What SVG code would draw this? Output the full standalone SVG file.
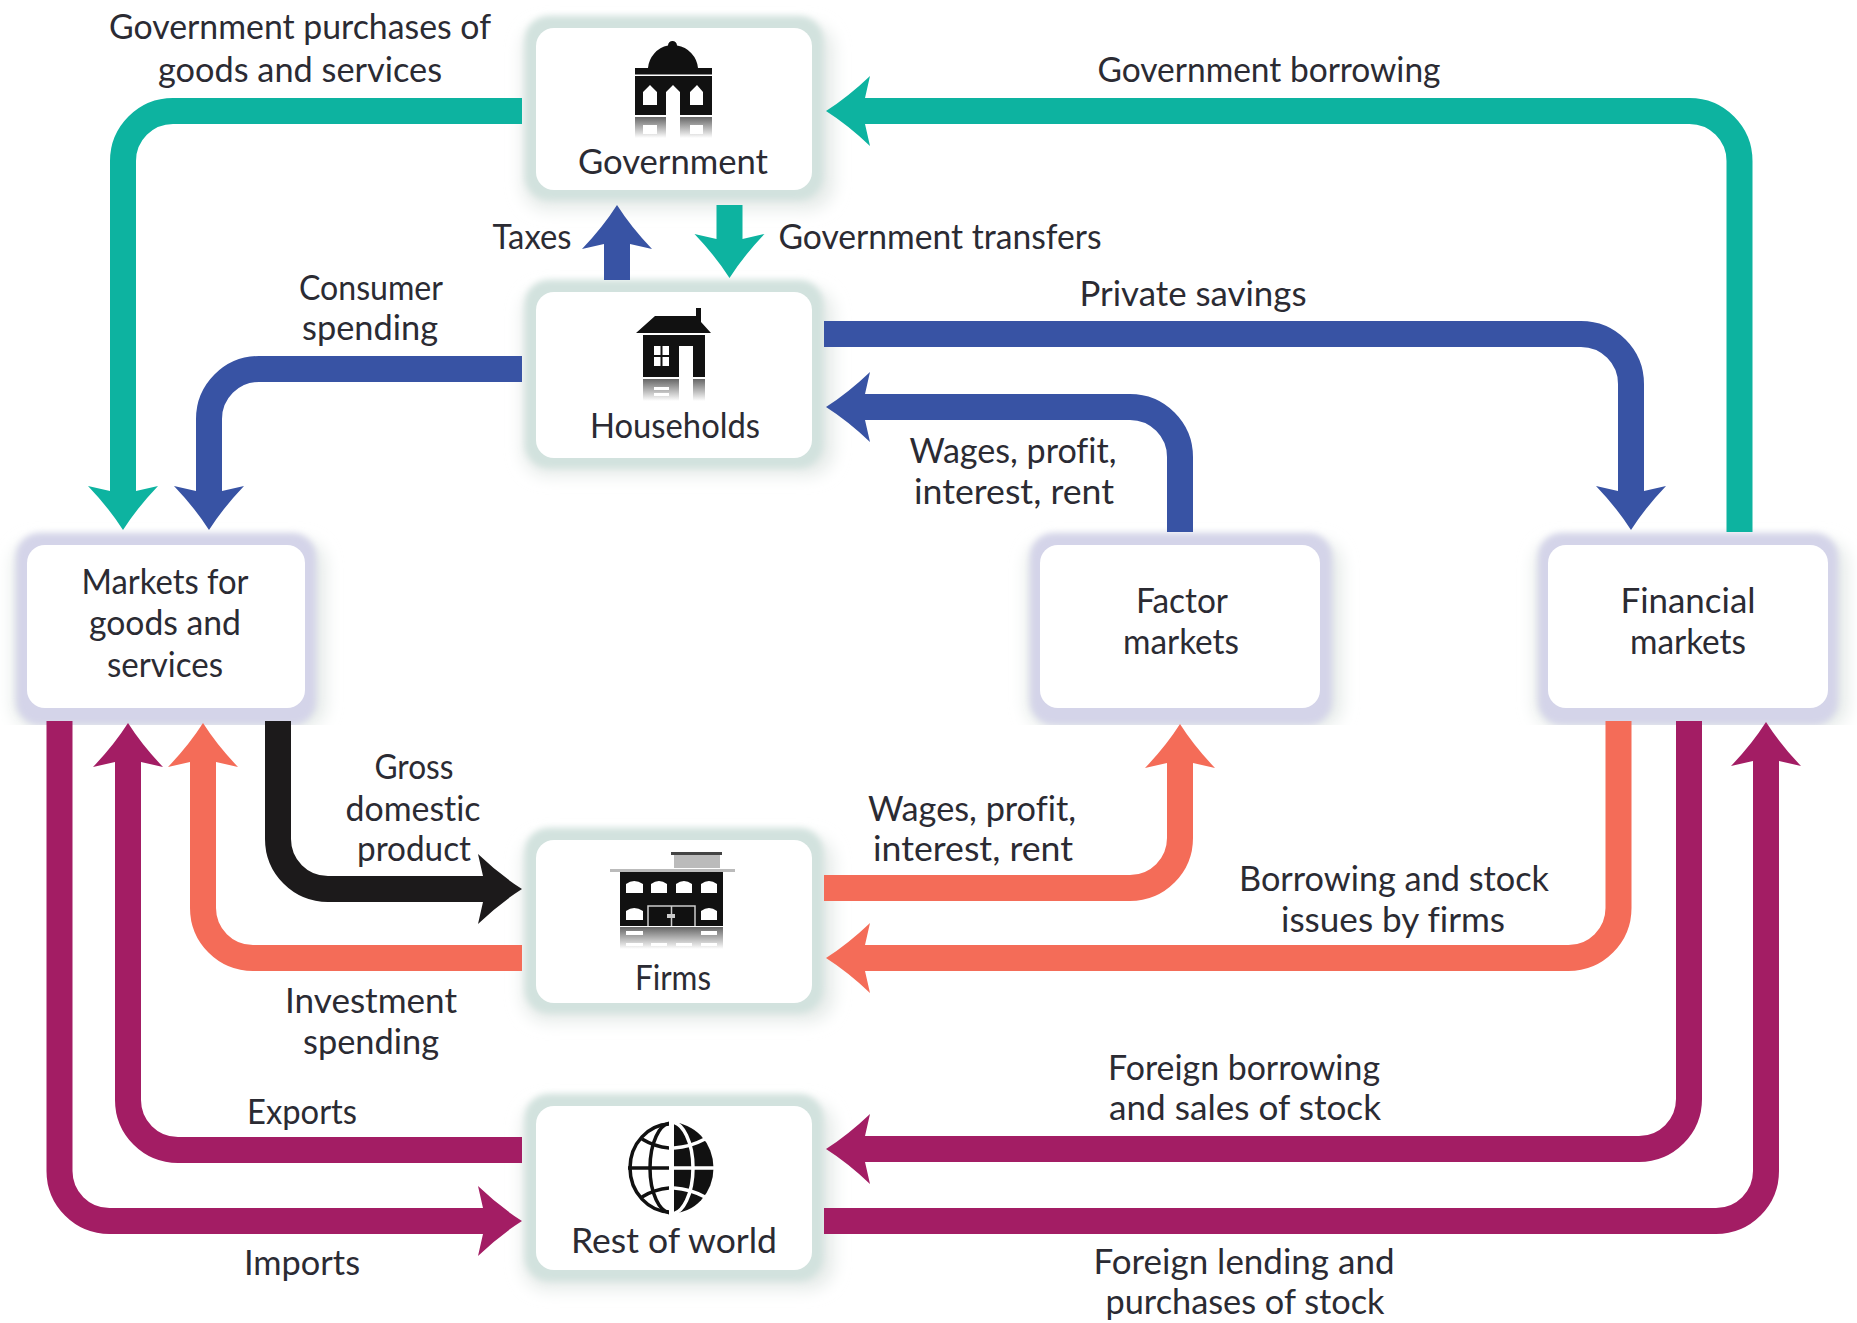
<svg xmlns="http://www.w3.org/2000/svg" width="1857" height="1323" viewBox="0 0 1857 1323">
<style>
text{font-family:"Lato","Noto Sans","Liberation Sans",sans-serif;font-size:35px;fill:#2b2b33;text-anchor:middle;font-variant-ligatures:none}
.box{fill:#fff}
.hg{fill:#d2e2de}
.hp{fill:#d4d4e9}
.sh{fill:#e6ebe9}
.c{fill:none;stroke-width:26}
.teal{stroke:#0db3a0}.blue{stroke:#3853a4}.coral{stroke:#f46c58}.mag{stroke:#a31d64}.blk{stroke:#1c1a1b}
.w{fill:#fff}.k{fill:#111}
</style>
<defs>
<filter id="blur" x="-20%" y="-20%" width="140%" height="140%"><feGaussianBlur stdDeviation="3"/></filter>
<filter id="blur2" x="-20%" y="-20%" width="140%" height="140%"><feGaussianBlur stdDeviation="8"/></filter>
<linearGradient id="refl" x1="0" y1="0" x2="0" y2="1"><stop offset="0" stop-color="#666"/><stop offset="1" stop-color="#fff"/></linearGradient>
<clipPath id="cut"><rect x="0" y="480" width="1857" height="245"/></clipPath>
<clipPath id="rh"><rect x="674" y="1110" width="50" height="115"/></clipPath>
<clipPath id="lh"><rect x="620" y="1110" width="49" height="115"/></clipPath>
<marker id="aT" markerUnits="userSpaceOnUse" markerWidth="90" markerHeight="80" viewBox="0 0 90 80" refX="20" refY="40" orient="auto"><path fill="#0db3a0" d="M50,40Q28,26 6,5L11,27V53L6,75Q28,54 50,40Z"/></marker>
<marker id="aB" markerUnits="userSpaceOnUse" markerWidth="90" markerHeight="80" viewBox="0 0 90 80" refX="20" refY="40" orient="auto"><path fill="#3853a4" d="M50,40Q28,26 6,5L11,27V53L6,75Q28,54 50,40Z"/></marker>
<marker id="aC" markerUnits="userSpaceOnUse" markerWidth="90" markerHeight="80" viewBox="0 0 90 80" refX="20" refY="40" orient="auto"><path fill="#f46c58" d="M50,40Q28,26 6,5L11,27V53L6,75Q28,54 50,40Z"/></marker>
<marker id="aM" markerUnits="userSpaceOnUse" markerWidth="90" markerHeight="80" viewBox="0 0 90 80" refX="20" refY="40" orient="auto"><path fill="#a31d64" d="M50,40Q28,26 6,5L11,27V53L6,75Q28,54 50,40Z"/></marker>
<marker id="aK" markerUnits="userSpaceOnUse" markerWidth="90" markerHeight="80" viewBox="0 0 90 80" refX="20" refY="40" orient="auto"><path fill="#1c1a1b" d="M50,40Q28,26 6,5L11,27V53L6,75Q28,54 50,40Z"/></marker>
</defs>
<rect width="1857" height="1323" fill="#fff"/>

<g id="node-government">
<rect class="sh" x="522" y="24" width="312" height="186" rx="26" filter="url(#blur2)"/>
<rect class="hg" x="525" y="16" width="298" height="184" rx="24" filter="url(#blur)"/>
<rect class="box" x="536" y="28" width="276" height="162" rx="18"/>
<path class="k" d="M648,68A25,25 0 0 1 668,45.500A4.500,4.500 0 1 1 677,45.500A25,25 0 0 1 698,68Z"/>
<rect class="k" x="635" y="68" width="77" height="6.500"/>
<rect class="k" x="635" y="76" width="77" height="39"/>
<path class="w" d="M643,105V92L650,85L657,92V105ZM666,115V92L673,85L680,92V115ZM690,105V92L697,85L703,92V105Z"/>
<rect x="635" y="117" width="77" height="21" fill="url(#refl)"/>
<path class="w" d="M666,117H680V138H666ZM643,125H657V134H643ZM690,125H703V134H690Z"/>
<text x="673" y="174" textLength="190" lengthAdjust="spacingAndGlyphs">Government</text>
</g>
<g id="node-households">
<rect class="sh" x="522" y="288" width="312" height="188" rx="26" filter="url(#blur2)"/>
<rect class="hg" x="525" y="280" width="298" height="188" rx="24" filter="url(#blur)"/>
<rect class="box" x="536" y="292" width="276" height="166" rx="18"/>
<path class="k" d="M636,333L655,316H696V308H701V322L711,333Z"/>
<rect class="k" x="643" y="335" width="62" height="42"/>
<path class="w" d="M654,346H660.500V355H654ZM662.500,346H669V355H662.500ZM654,357H660.500V366H654ZM662.500,357H669V366H662.500ZM679,346H693V377H679Z"/>
<rect x="643" y="379" width="62" height="22" fill="url(#refl)"/>
<path class="w" d="M679,379H693V401H679ZM654,387H669V390H654ZM654,393H669V396H654Z"/>
<text x="675" y="438" textLength="170" lengthAdjust="spacingAndGlyphs">Households</text>
</g>
<g id="node-firms">
<rect class="sh" x="522" y="836" width="312" height="186" rx="26" filter="url(#blur2)"/>
<rect class="hg" x="525" y="828" width="298" height="185" rx="24" filter="url(#blur)"/>
<rect class="box" x="536" y="840" width="276" height="163" rx="18"/>
<rect x="671" y="852" width="51" height="3" fill="#444"/>
<rect x="674" y="855" width="46" height="13" fill="#bbb"/>
<rect x="610" y="869" width="125" height="3" fill="#bbb"/>
<rect class="k" x="620" y="872" width="103" height="54"/>
<path class="w" d="M626,893V884Q634,878 643,884V893ZM651,893V884Q659,878 667,884V893ZM676,893V884Q684,878 692,884V893ZM701,893V884Q709,878 717,884V893ZM626,920V911Q634,905 643,911V920ZM701,920V911Q709,905 717,911V920Z"/>
<path d="M648,926V906H695V926M671.500,906V926" fill="none" stroke="#ccc" stroke-width="1.500"/>
<rect x="667" y="914" width="8" height="4" fill="#ccc"/>
<rect x="620" y="927" width="103" height="22" fill="url(#refl)"/>
<path class="w" d="M626,931H643V935H626ZM701,931H717V935H701ZM626,943H643V946H626ZM651,943H667V946H651ZM676,943H692V946H676ZM701,943H717V946H701Z"/>
<text x="673" y="990" textLength="76" lengthAdjust="spacingAndGlyphs">Firms</text>
</g>
<g id="node-rest-of-world">
<rect class="sh" x="522" y="1102" width="312" height="188" rx="26" filter="url(#blur2)"/>
<rect class="hg" x="525" y="1094" width="298" height="187" rx="24" filter="url(#blur)"/>
<rect class="box" x="536" y="1106" width="276" height="164" rx="18"/>
<g clip-path="url(#lh)" fill="none" stroke="#111" stroke-width="3.500">
<ellipse cx="671" cy="1168" rx="41" ry="44"/>
<ellipse cx="671" cy="1168" rx="21" ry="45"/>
<path d="M628,1168H670M642,1139Q655,1147 670,1148M642,1197Q655,1189 670,1188"/>
</g>
<g clip-path="url(#rh)">
<ellipse class="k" cx="671" cy="1168" rx="42.500" ry="45.500"/>
<g fill="none" stroke="#fff" stroke-width="3.500">
<ellipse cx="671" cy="1168" rx="22" ry="46"/>
<path d="M670,1168H715M674,1148Q690,1147 705,1139M674,1188Q690,1189 705,1197"/>
</g>
</g>
<text x="674" y="1253" textLength="206" lengthAdjust="spacingAndGlyphs">Rest of world</text>
</g>
<g id="node-goods-markets">
<g clip-path="url(#cut)"><rect class="sh" x="12" y="540" width="314" height="190" rx="26" filter="url(#blur2)"/><rect class="hp" x="16" y="533" width="300" height="192" rx="24" filter="url(#blur)"/></g>
<rect class="box" x="27" y="545" width="278" height="163" rx="18"/>
<text x="165" y="594" textLength="167" lengthAdjust="spacingAndGlyphs">Markets for</text>
<text x="165" y="635" textLength="152" lengthAdjust="spacingAndGlyphs">goods and</text>
<text x="165" y="677" textLength="116" lengthAdjust="spacingAndGlyphs">services</text>
</g>
<g id="node-factor-markets">
<g clip-path="url(#cut)"><rect class="sh" x="1026" y="540" width="316" height="190" rx="26" filter="url(#blur2)"/><rect class="hp" x="1030" y="533" width="302" height="192" rx="24" filter="url(#blur)"/></g>
<rect class="box" x="1040" y="545" width="280" height="163" rx="18"/>
<text x="1182" y="613" textLength="92" lengthAdjust="spacingAndGlyphs">Factor</text>
<text x="1181" y="654" textLength="116" lengthAdjust="spacingAndGlyphs">markets</text>
</g>
<g id="node-financial-markets">
<g clip-path="url(#cut)"><rect class="sh" x="1534" y="540" width="314" height="190" rx="26" filter="url(#blur2)"/><rect class="hp" x="1538" y="533" width="300" height="192" rx="24" filter="url(#blur)"/></g>
<rect class="box" x="1548" y="545" width="280" height="163" rx="18"/>
<text x="1688" y="613" textLength="135" lengthAdjust="spacingAndGlyphs">Financial</text>
<text x="1688" y="654" textLength="116" lengthAdjust="spacingAndGlyphs">markets</text>
</g>

<g id="connectors">
<path class="c teal" marker-end="url(#aT)" d="M522,111H173A50,50 0 0 0 123,161V500"/>
<path class="c teal" marker-end="url(#aT)" d="M1739.500,532V161A50,50 0 0 0 1689.500,111H856"/>
<path class="c blue" marker-end="url(#aB)" d="M617,280V235"/>
<path class="c teal" marker-end="url(#aT)" d="M729.500,205V248"/>
<path class="c blue" marker-end="url(#aB)" d="M522,369H259A50,50 0 0 0 209,419V500"/>
<path class="c blue" marker-end="url(#aB)" d="M824,334H1581A50,50 0 0 1 1631,384V500"/>
<path class="c blue" marker-end="url(#aB)" d="M1180,532V457A50,50 0 0 0 1130,407H856"/>
<path class="c mag" d="M59.500,721V1171A50,50 0 0 0 109.500,1221H492" marker-end="url(#aM)"/>
<path class="c mag" marker-end="url(#aM)" d="M522,1150H178A50,50 0 0 1 128,1100V753"/>
<path class="c coral" marker-end="url(#aC)" d="M522,958H253A50,50 0 0 1 203,908V753"/>
<path class="c blk" marker-end="url(#aK)" d="M278,721V839A50,50 0 0 0 328,889H492"/>
<path class="c coral" marker-end="url(#aC)" d="M824,888H1130A50,50 0 0 0 1180,838V754"/>
<path class="c coral" marker-end="url(#aC)" d="M1618.500,721V908A50,50 0 0 1 1568.500,958H856"/>
<path class="c mag" marker-end="url(#aM)" d="M1689,721V1099A50,50 0 0 1 1639,1149H856"/>
<path class="c mag" marker-end="url(#aM)" d="M824,1221H1716A50,50 0 0 0 1766,1171V752"/>
</g>

<g id="labels">
<text x="300" y="39" textLength="382" lengthAdjust="spacingAndGlyphs">Government purchases of</text>
<text x="300" y="82" textLength="284" lengthAdjust="spacingAndGlyphs">goods and services</text>
<text x="1269" y="82" textLength="343" lengthAdjust="spacingAndGlyphs">Government borrowing</text>
<text x="532" y="249" textLength="79" lengthAdjust="spacingAndGlyphs">Taxes</text>
<text x="940" y="249" textLength="323" lengthAdjust="spacingAndGlyphs">Government transfers</text>
<text x="371" y="300" textLength="144" lengthAdjust="spacingAndGlyphs">Consumer</text>
<text x="370" y="340" textLength="136" lengthAdjust="spacingAndGlyphs">spending</text>
<text x="1193" y="306" textLength="227" lengthAdjust="spacingAndGlyphs">Private savings</text>
<text x="1013" y="463" textLength="207" lengthAdjust="spacingAndGlyphs">Wages, profit,</text>
<text x="1014" y="504" textLength="200" lengthAdjust="spacingAndGlyphs">interest, rent</text>
<text x="414" y="779" textLength="79" lengthAdjust="spacingAndGlyphs">Gross</text>
<text x="413" y="821" textLength="135" lengthAdjust="spacingAndGlyphs">domestic</text>
<text x="414" y="861" textLength="114" lengthAdjust="spacingAndGlyphs">product</text>
<text x="972" y="821" textLength="208" lengthAdjust="spacingAndGlyphs">Wages, profit,</text>
<text x="973" y="861" textLength="200" lengthAdjust="spacingAndGlyphs">interest, rent</text>
<text x="1394" y="891" textLength="310" lengthAdjust="spacingAndGlyphs">Borrowing and stock</text>
<text x="1393" y="932" textLength="224" lengthAdjust="spacingAndGlyphs">issues by firms</text>
<text x="371" y="1013" textLength="172" lengthAdjust="spacingAndGlyphs">Investment</text>
<text x="371" y="1054" textLength="136" lengthAdjust="spacingAndGlyphs">spending</text>
<text x="302" y="1124" textLength="110" lengthAdjust="spacingAndGlyphs">Exports</text>
<text x="1244" y="1080" textLength="272" lengthAdjust="spacingAndGlyphs">Foreign borrowing</text>
<text x="1245" y="1120" textLength="272" lengthAdjust="spacingAndGlyphs">and sales of stock</text>
<text x="302" y="1275" textLength="116" lengthAdjust="spacingAndGlyphs">Imports</text>
<text x="1244" y="1274" textLength="301" lengthAdjust="spacingAndGlyphs">Foreign lending and</text>
<text x="1245" y="1314" textLength="279" lengthAdjust="spacingAndGlyphs">purchases of stock</text>
</g>
</svg>
